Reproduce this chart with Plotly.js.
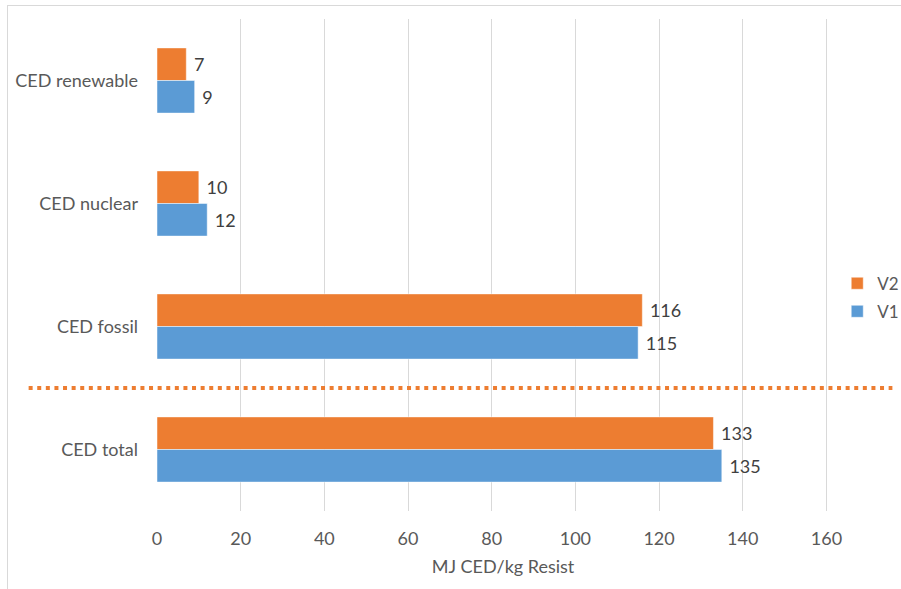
<!DOCTYPE html>
<html>
<head>
<meta charset="utf-8">
<script src="https://cdn.plot.ly/plotly-3.0.1.min.js"></script>
<style>
  html, body { margin: 0; padding: 0; background: #fff; overflow: hidden; }
  #frame { position: absolute; left: 7px; top: 5px; width: 1000px; height: 1000px;
           border: 1px solid #d9d9d9; box-sizing: border-box; }
  #chart { position: absolute; left: 0; top: 0; width: 901px; height: 589px; }
</style>
</head>
<body>
<div id="frame"></div>
<div id="chart"></div>
<script>
// Cumulative energy demand per kg of resist, two variants
const categories = ['CED renewable', 'CED nuclear', 'CED fossil', 'CED total'];
const v2Values = [7, 10, 116, 133];
const v1Values = [9, 12, 115, 135];
const xTicks = [0, 20, 40, 60, 80, 100, 120, 140, 160];

const FONT = 'Lato, "Open Sans", sans-serif';
const ORANGE = '#ED7D31';
const BLUE = '#5B9BD5';

const traces = [
  {
    type: 'bar', orientation: 'h', name: 'V2',
    y: categories, x: v2Values,
    marker: { color: ORANGE, line: { color: 'rgba(255,255,255,0.6)', width: 0.8 } },
    text: v2Values.map(String), texttemplate: ' %{text}', textposition: 'outside',
    textfont: { family: FONT, size: 18, color: '#404040' },
    cliponaxis: false, legend: 'legend', showlegend: true, hoverinfo: 'x+name'
  },
  {
    type: 'bar', orientation: 'h', name: 'V1',
    y: categories, x: v1Values,
    marker: { color: BLUE, line: { color: 'rgba(255,255,255,0.6)', width: 0.8 } },
    text: v1Values.map(String), texttemplate: ' %{text}', textposition: 'outside',
    textfont: { family: FONT, size: 18, color: '#404040' },
    cliponaxis: false, legend: 'legend2', showlegend: true, hoverinfo: 'x+name'
  }
];

const legendStyle = {
  xanchor: 'left', yanchor: 'middle', bgcolor: 'rgba(0,0,0,0)',
  font: { family: FONT, size: 17, color: '#595959' }, itemwidth: 30
};

const layout = {
  width: 901, height: 589,
  margin: { l: 156.5, r: 51.5, t: 19, b: 77.5, pad: 0, autoexpand: false },
  showlegend: true,
  paper_bgcolor: 'rgba(0,0,0,0)', plot_bgcolor: 'rgba(0,0,0,0)',
  font: { family: FONT, size: 18, color: '#595959' },
  barmode: 'group', bargap: 0.47, bargroupgap: 0,
  xaxis: {
    range: [0, 165.4], tickvals: xTicks, ticktext: xTicks.map(String),
    showgrid: true, gridcolor: '#d9d9d9', gridwidth: 1,
    zeroline: false, showline: false, ticks: '',
    ticklabelstandoff: 15,
    tickfont: { family: FONT, size: 18, color: '#595959' },
    title: { text: 'MJ CED/kg Resist', standoff: 12,
             font: { family: FONT, size: 18, color: '#595959' } },
    fixedrange: true
  },
  yaxis: {
    type: 'category', autorange: 'reversed',
    showgrid: false, zeroline: false, showline: false, ticks: '',
    ticklabelstandoff: 18,
    tickfont: { family: FONT, size: 18, color: '#595959' },
    fixedrange: true
  },
  legend: Object.assign({ x: 0.983, y: 0.462 }, legendStyle),
  legend2: Object.assign({ x: 0.983, y: 0.405 }, legendStyle),
  shapes: [
    {
      // divider between the component rows and the total
      type: 'line', xref: 'paper', yref: 'y',
      x0: -0.1855, x1: 1.0627, y0: 2.5, y1: 2.5,
      line: { color: ORANGE, width: 4, dash: '4px,4.6px' }
    }
  ]
};

Plotly.newPlot('chart', traces, layout, { displayModeBar: false, staticPlot: true });
</script>
</body>
</html>
